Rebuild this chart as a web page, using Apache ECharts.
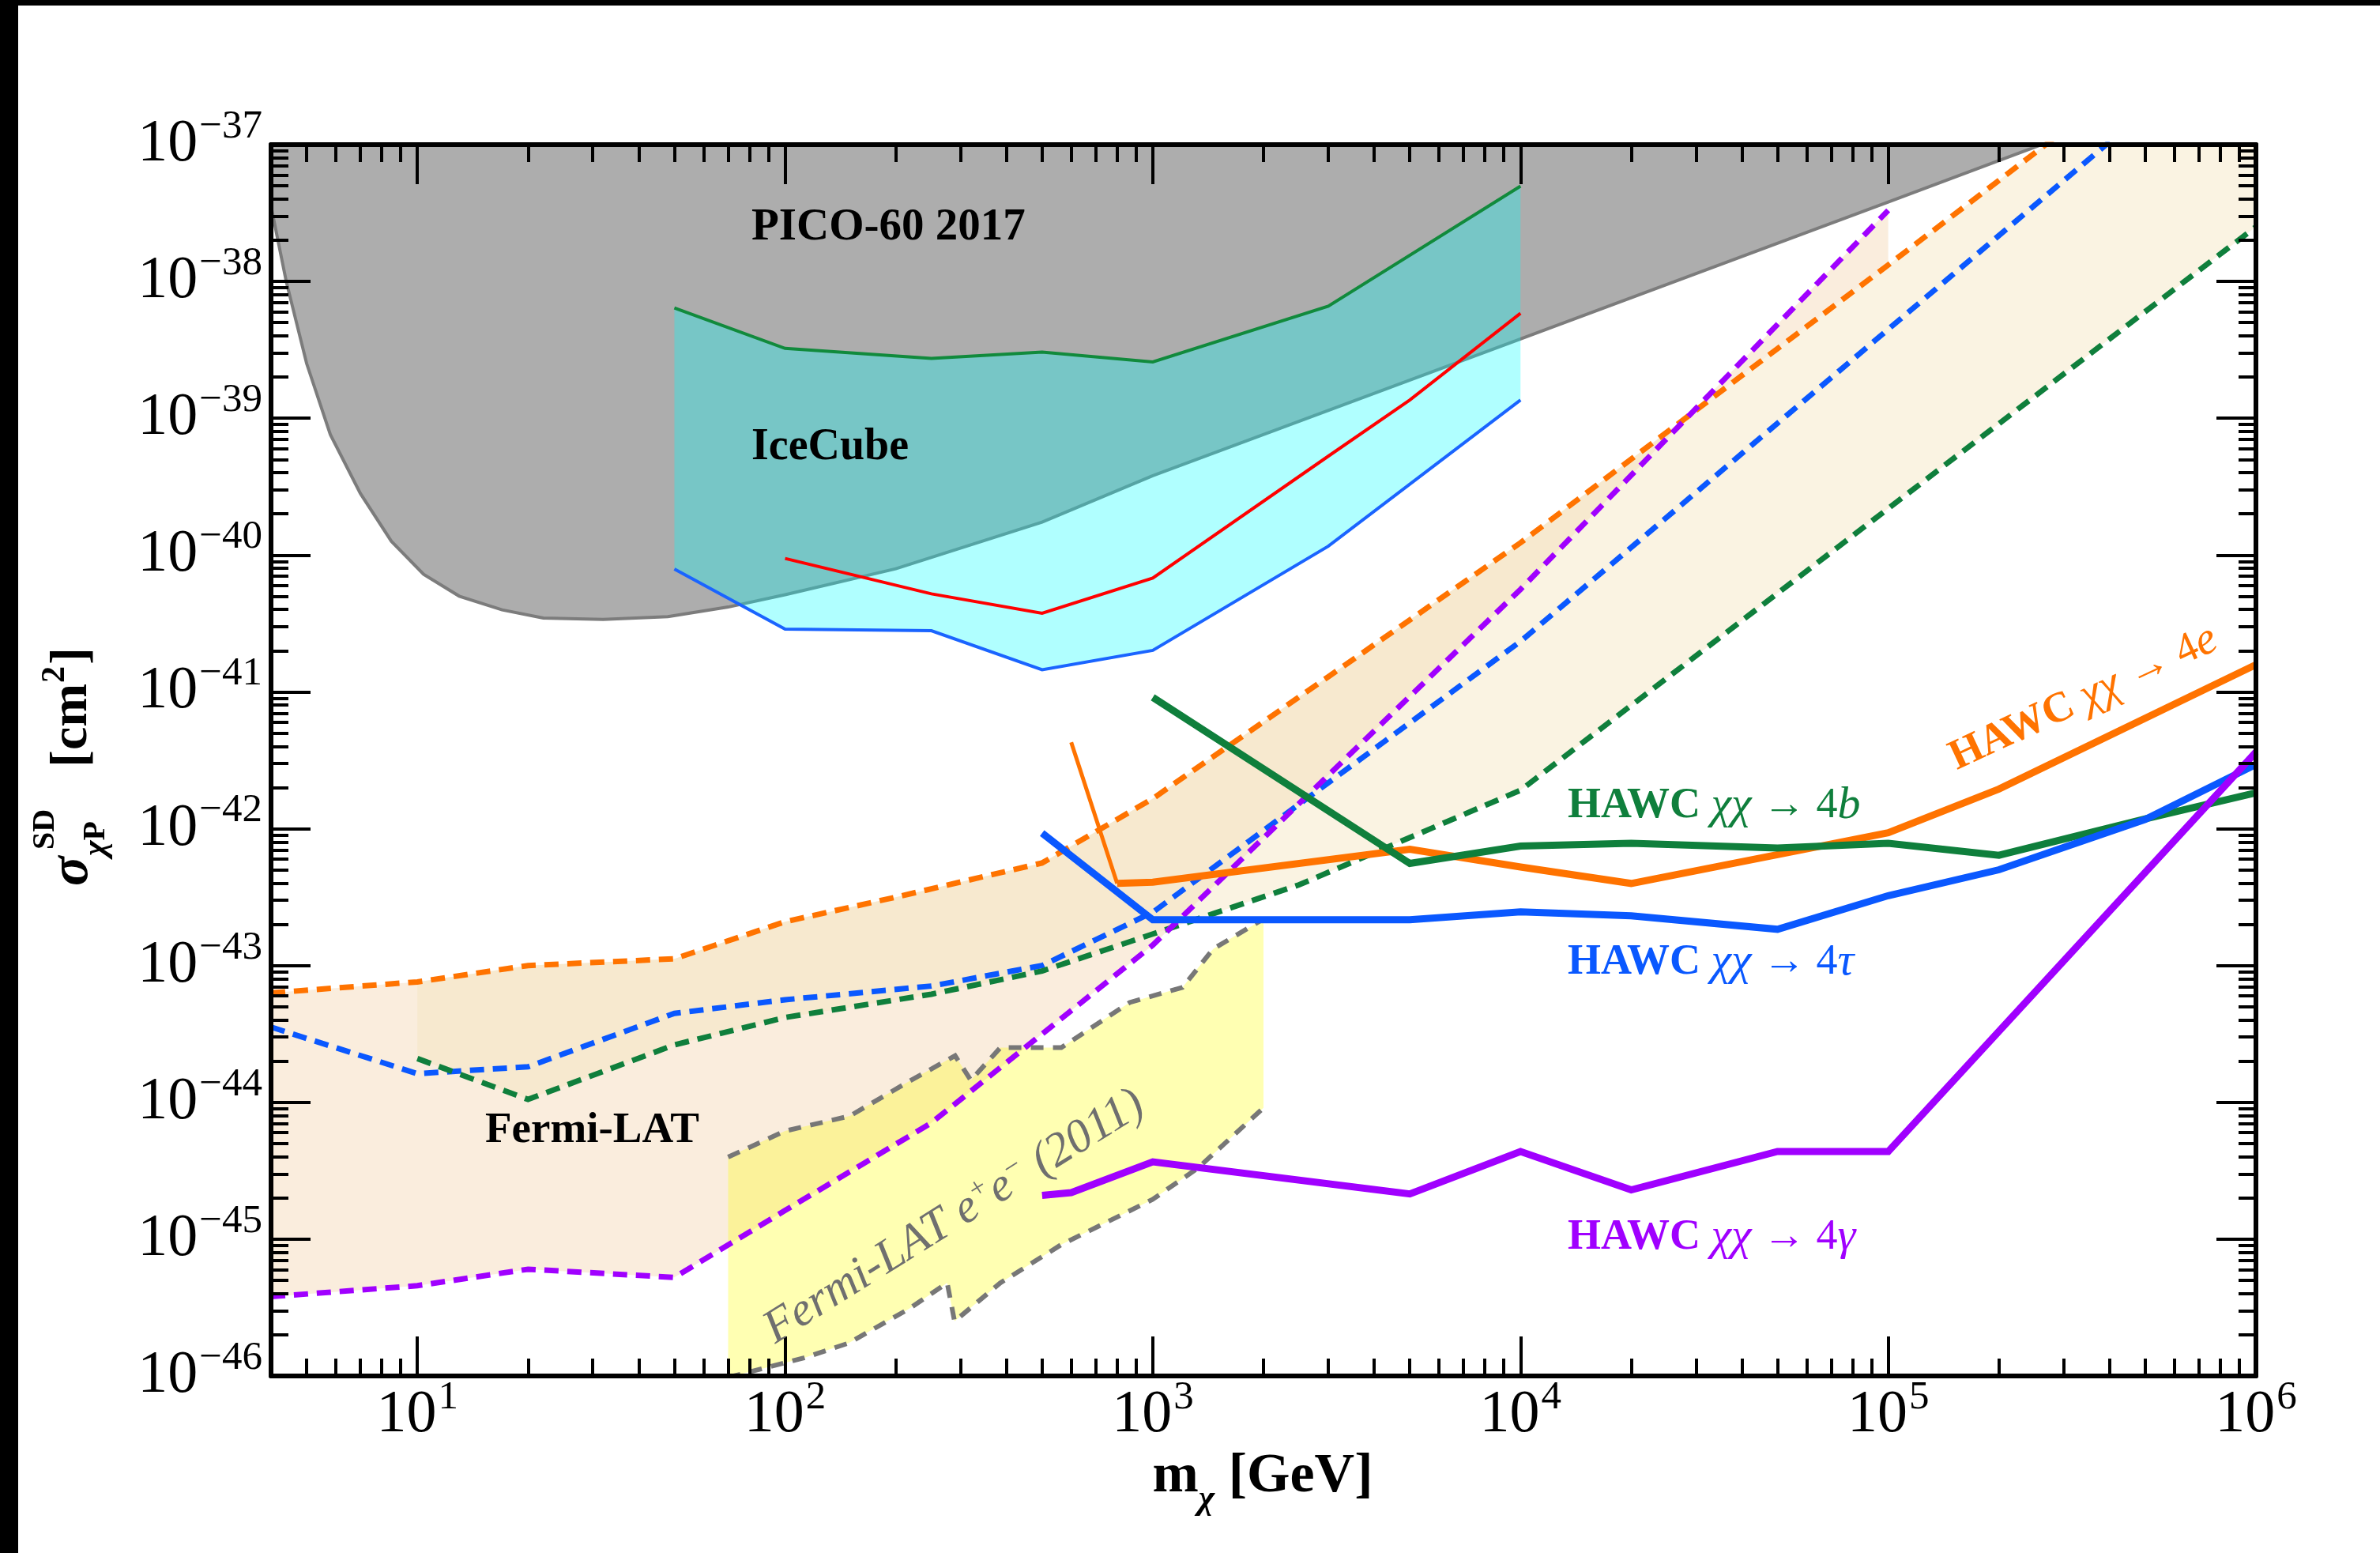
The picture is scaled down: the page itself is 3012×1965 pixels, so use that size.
<!DOCTYPE html>
<html><head><meta charset="utf-8">
<script src="https://cdn.jsdelivr.net/npm/echarts@6/dist/echarts.min.js"></script>
<style>html,body{margin:0;padding:0;background:#fff}#c{width:3012px;height:1965px}</style>
</head><body><div id="c"></div>
<script>
// ---------------- DATA (mass in GeV, cross-section in cm^2) ----------------
const xMajorTicks = [10, 100, 1000, 1e4, 1e5, 1e6];
const yMajorExponents = [-46, -45, -44, -43, -42, -41, -40, -39, -38, -37];

// PICO-60 2017
const picoMass  = [4, 4.4, 5, 5.8, 7, 8.5, 10.4, 13, 17, 22, 32, 48, 70, 100, 200, 500, 1000, 1e4, 1e5, 3e5];
const picoSigma = [3.55e-38, 1e-38, 2.51e-39, 7.59e-40, 2.82e-40, 1.26e-40, 7.24e-41, 5.01e-41, 3.98e-41, 3.47e-41, 3.39e-41, 3.55e-41, 4.17e-41, 5.13e-41, 7.94e-41, 1.74e-40, 3.80e-40, 3.80e-39, 3.80e-38, 1.15e-37];

// IceCube
const iceMass   = [50, 100, 250, 500, 1000, 3000, 10000];
const iceUpper  = [6.40e-39, 3.24e-39, 2.74e-39, 3.05e-39, 2.58e-39, 6.59e-39, 4.97e-38];
const iceLower  = [7.91e-41, 2.88e-41, 2.80e-41, 1.45e-41, 2.01e-41, 1.16e-40, 1.36e-39];
const iceRedMass  = [100, 250, 500, 1000, 3000, 5000, 10000];
const iceRedSigma = [9.44e-41, 5.21e-41, 3.76e-41, 6.79e-41, 5.28e-40, 1.36e-39, 5.85e-39];

// Fermi-LAT dwarf limits (dashed)
const fermi4eMass  = [4, 10, 20, 50, 100, 200, 500, 1000, 3000, 10000, 1e5, 3e5];
const fermi4eSigma = [6.31e-44, 7.59e-44, 1.0e-43, 1.12e-43, 2.09e-43, 3.16e-43, 5.62e-43, 1.66e-42, 1.29e-41, 1.23e-40, 1.32e-38, 1.26e-37];
const fermiBandTopMass  = [10, 20, 50, 100, 200, 500, 1000, 3000, 10000, 1e5, 3e5, 1e6];
const fermiBandTopSigma = [7.59e-44, 1.0e-43, 1.12e-43, 2.09e-43, 3.16e-43, 5.62e-43, 1.66e-42, 1.29e-41, 1.23e-40, 1.32e-38, 1.26e-37, 1e-35];
const fermi4tMass  = [4, 10, 20, 50, 100, 250, 500, 1000, 2500, 1e4, 1e5, 4e5];
const fermi4tSigma = [3.55e-44, 1.62e-44, 1.82e-44, 4.47e-44, 5.62e-44, 7.08e-44, 1.0e-43, 2.45e-43, 1.51e-42, 2.34e-41, 4.47e-39, 1.05e-37];
const fermi4bMass  = [10, 20, 50, 100, 250, 500, 1000, 2500, 1e4, 1e5, 1e6];
const fermi4bSigma = [2.09e-44, 1.05e-44, 2.63e-44, 4.17e-44, 6.17e-44, 9.12e-44, 1.70e-43, 3.89e-43, 1.91e-42, 2.19e-40, 2.51e-38];
const fermi4gMass  = [4, 10, 20, 50, 100, 250, 1000, 1e4, 1e5];
const fermi4gSigma = [3.80e-46, 4.57e-46, 6.03e-46, 5.25e-46, 1.62e-45, 7.08e-45, 1.41e-43, 5.62e-41, 3.31e-38];

// Fermi-LAT e+e- (2011)
const eeUpperMass  = [70, 100, 150, 220, 290, 320, 385, 564, 865, 1205, 1459, 2000];
const eeUpperSigma = [3.98e-45, 6.17e-45, 7.94e-45, 1.45e-44, 2.19e-44, 1.45e-44, 2.51e-44, 2.51e-44, 5.37e-44, 6.92e-44, 1.32e-43, 2.19e-43];
const eeLowerMass  = [70, 112, 149, 217, 276, 289, 385, 564, 824, 998, 1327, 2000];
const eeLowerSigma = [9.77e-47, 1.35e-46, 1.74e-46, 3.09e-46, 4.79e-46, 2.51e-46, 4.79e-46, 9.12e-46, 1.51e-45, 1.95e-45, 3.31e-45, 9.12e-45];

// HAWC
const hawc4eMass  = [600, 800, 1000, 5000, 1e4, 2e4, 5e4, 1e5, 2e5, 1e6];
const hawc4eSigma = [4.28e-42, 3.98e-43, 4.07e-43, 7.08e-43, 5.25e-43, 3.98e-43, 6.46e-43, 9.33e-43, 1.95e-42, 1.58e-41];
const hawc4bMass  = [1000, 5000, 1e4, 2e4, 5e4, 1e5, 2e5, 5e5, 1e6];
const hawc4bSigma = [9.12e-42, 5.58e-43, 7.46e-43, 7.83e-43, 7.23e-43, 7.83e-43, 6.40e-43, 1.18e-42, 1.83e-42];
const hawc4tMass  = [500, 1000, 5000, 1e4, 2e4, 5e4, 1e5, 2e5, 5e5, 1e6];
const hawc4tSigma = [9.29e-43, 2.16e-43, 2.16e-43, 2.47e-43, 2.31e-43, 1.84e-43, 3.24e-43, 5.01e-43, 1.17e-42, 2.95e-42];
const hawc4gMass  = [500, 600, 1000, 5000, 1e4, 2e4, 5e4, 1e5, 1e6];
const hawc4gSigma = [2.09e-45, 2.19e-45, 3.67e-45, 2.14e-45, 4.37e-45, 2.29e-45, 4.37e-45, 4.37e-45, 3.63e-42];

// ---------------- STYLE / SCALES ----------------
// the y axis works in units of 1e-46 cm^2 (avoids float rounding of tiny numbers)
const Y_UNIT_EXP = -46;
const toAxis = s => s * Math.pow(10, -Y_UNIT_EXP);
const Y_MIN = Math.pow(10, yMajorExponents[0] - Y_UNIT_EXP);
const Y_MAX = Math.pow(10, yMajorExponents[yMajorExponents.length - 1] - Y_UNIT_EXP);

const FONT = "'Liberation Serif','DejaVu Serif',serif";
const C = {
  orange: '#ff7300', green: '#0f7f3c', blue: '#0a58ff', purple: '#a000ff',
  gray: '#777777', iceGreen: '#118a3c', iceRed: '#ff0000', iceBlue: '#1a64ff'
};

const pairs = (xs, ys) => xs.map((x, i) => [x, toAxis(ys[i])]);

function line(xs, ys, color, width, dash, z) {
  return {
    type: 'line', data: pairs(xs, ys), symbol: 'none', z: z, silent: true,
    animation: false, clip: true,
    lineStyle: { color: color, width: width, type: dash || 'solid', cap: 'butt', join: 'miter' }
  };
}
function band(upX, upY, loX, loY, fill, z) {
  const up = pairs(upX, upY), lo = pairs(loX, loY);
  return {
    type: 'custom', coordinateSystem: 'cartesian2d', z: z, silent: true, animation: false,
    data: [up[0]],
    renderItem: function (params, api) {
      const pts = [];
      for (let i = 0; i < up.length; i++) pts.push(api.coord(up[i]));
      for (let j = lo.length - 1; j >= 0; j--) pts.push(api.coord(lo[j]));
      const cs = params.coordSys;
      return {
        type: 'polygon', shape: { points: pts }, style: { fill: fill },
        clipPath: { type: 'rect', shape: { x: cs.x, y: cs.y, width: cs.width, height: cs.height } }
      };
    }
  };
}

const xMinorTicks = [];
for (let e = 0; e < 6; e++) for (let k = 2; k <= 9; k++) { const v = k * Math.pow(10, e); if (v > 4 && v < 1e6) xMinorTicks.push(v); }
const yMajorTicks = yMajorExponents.map(e => Math.pow(10, e - Y_UNIT_EXP));
const yMinorTicks = [];
for (let i = 0; i < yMajorExponents.length - 1; i++) for (let k = 2; k <= 9; k++) yMinorTicks.push(k * yMajorTicks[i]);

const labRich = {
  b: { fontSize: 76, fontFamily: FONT, color: '#000', lineHeight: 76, verticalAlign: 'bottom' },
  s: { fontSize: 51, fontFamily: FONT, color: '#000', lineHeight: 51, padding: [0, 0, 35, 2], verticalAlign: 'bottom' }
};
const supFmt = e => '{b|10}{s|' + (e < 0 ? '\u2212' + (-e) : e) + '}';
const xFmt = v => supFmt(Math.round(Math.log10(v)));
const yFmt = v => supFmt(Math.round(Math.log10(v)) + Y_UNIT_EXP);

function xAx(pos, ticks, len, showLabel, showLine) {
  return {
    type: 'log', logBase: 10, min: 4, max: 1e6, position: pos, z: 50,
    axisLine: { show: showLine, onZero: false, lineStyle: { color: '#000', width: 6 } },
    axisTick: { show: true, inside: true, length: len, customValues: ticks, lineStyle: { color: '#000', width: 4 } },
    axisLabel: showLabel ? { show: true, customValues: ticks, formatter: xFmt, margin: 12, rich: labRich } : { show: false },
    splitLine: { show: false }, minorTick: { show: false }
  };
}
function yAx(pos, ticks, len, showLabel, showLine) {
  return {
    type: 'log', logBase: 10, min: Y_MIN, max: Y_MAX, position: pos, z: 50,
    axisLine: { show: showLine, onZero: false, lineStyle: { color: '#000', width: 6 } },
    axisTick: { show: true, inside: true, length: len, customValues: ticks, lineStyle: { color: '#000', width: 4 } },
    axisLabel: showLabel ? { show: true, customValues: ticks, formatter: yFmt, margin: 11, rich: labRich } : { show: false },
    splitLine: { show: false }, minorTick: { show: false }
  };
}

const chart = echarts.init(document.getElementById('c'), null, { renderer: 'canvas' });

const fermiA_upX = fermi4eMass.filter(m => m <= 1e5);
const fermiA_upY = fermi4eSigma.slice(0, fermiA_upX.length);

const DASH = [18, 11];
const series = [
  // PICO-60 grey excluded region
  Object.assign(line(picoMass, picoSigma, '#7c7c7c', 4, 'solid', 1),
    { areaStyle: { origin: Y_MAX, color: '#adadad', opacity: 1 } }),
  // Fermi-LAT bands
  band(fermiA_upX, fermiA_upY, fermi4gMass, fermi4gSigma, 'rgba(245,214,180,0.45)', 2),
  band(fermiBandTopMass, fermiBandTopSigma, fermi4bMass, fermi4bSigma, 'rgba(243,228,190,0.45)', 2),
  // Fermi-LAT e+e- band
  band(eeUpperMass, eeUpperSigma, eeLowerMass, eeLowerSigma, 'rgba(255,255,0,0.30)', 3),
  // IceCube band
  band(iceMass, iceUpper, iceMass, iceLower, 'rgba(0,255,255,0.31)', 3),
  // dashed Fermi-LAT lines
  line(fermi4eMass, fermi4eSigma, C.orange, 7, DASH, 4),
  line(fermi4tMass, fermi4tSigma, C.blue, 7, DASH, 4),
  line(fermi4bMass, fermi4bSigma, C.green, 7, DASH, 4),
  line(fermi4gMass, fermi4gSigma, C.purple, 7, DASH, 4),
  line(eeUpperMass, eeUpperSigma, C.gray, 6, [16, 12], 4),
  line(eeLowerMass, eeLowerSigma, C.gray, 6, [16, 12], 4),
  // IceCube lines
  line(iceMass, iceUpper, C.iceGreen, 4, 'solid', 5),
  line(iceMass, iceLower, C.iceBlue, 4, 'solid', 5),
  line(iceRedMass, iceRedSigma, C.iceRed, 4, 'solid', 5),
  // HAWC
  line(hawc4eMass.slice(0, 2), hawc4eSigma.slice(0, 2), C.orange, 5, 'solid', 6),
  line(hawc4eMass.slice(1), hawc4eSigma.slice(1), C.orange, 9, 'solid', 6),
  line(hawc4bMass, hawc4bSigma, C.green, 9, 'solid', 6),
  line(hawc4tMass, hawc4tSigma, C.blue, 9, 'solid', 6),
  line(hawc4gMass, hawc4gSigma, C.purple, 9, 'solid', 6)
];

const hawcRich = (color) => ({
  h: { fontSize: 54, fontFamily: FONT, fontWeight: 'bold', fill: color },
  i: { fontSize: 58, fontFamily: FONT, fontStyle: 'italic', fill: color },
  r: { fontSize: 54, fontFamily: FONT, fill: color }
});
function hawcText(x, y, proc, color, rot) {
  return {
    type: 'text', x: x, y: y, rotation: rot || 0, z: 100, silent: true,
    style: {
      text: '{h|HAWC\u00a0}{i|\u03c7\u03c7\u00a0}{r|\u2192\u00a04}{i|' + proc + '}',
      rich: hawcRich(color), fill: color, align: rot ? 'center' : 'left', verticalAlign: 'middle'
    }
  };
}

const graphic = [
  { type: 'rect', shape: { x: 0, y: 0, width: 3012, height: 7 }, style: { fill: '#000' }, z: 200, silent: true },
  { type: 'rect', shape: { x: 0, y: 0, width: 23, height: 1965 }, style: { fill: '#000' }, z: 200, silent: true },
  { type: 'text', x: 951, y: 288, z: 100, silent: true, style: { text: 'PICO-60 2017', font: 'bold 57px ' + FONT, fill: '#000', verticalAlign: 'middle' } },
  { type: 'text', x: 951, y: 567, z: 100, silent: true, style: { text: 'IceCube', font: 'bold 56px ' + FONT, fill: '#000', verticalAlign: 'middle' } },
  { type: 'text', x: 614, y: 1431, z: 100, silent: true, style: { text: 'Fermi-LAT', font: 'bold 55px ' + FONT, fill: '#000', verticalAlign: 'middle' } },
  { type: 'text', x: 1208, y: 1540, z: 100, silent: true, rotation: 32 * Math.PI / 180,
    style: { text: 'Fermi-LAT e{s|+}e{s|\u2212} (2011)', font: 'italic 60px ' + FONT, fill: '#6f6f6f', align: 'center', verticalAlign: 'middle',
      rich: { s: { fontSize: 36, fontStyle: 'italic', fontFamily: FONT, fill: '#6f6f6f', padding: [0, 0, 28, 0], verticalAlign: 'bottom' } } } },
  hawcText(1984, 1020, 'b', C.green),
  hawcText(1984, 1218, '\u03c4', C.blue),
  hawcText(1984, 1566, '\u03b3', C.purple),
  hawcText(2637, 884, 'e', C.orange, 25 * Math.PI / 180),
  // x-axis title
  { type: 'text', x: 1598, y: 1885, z: 100, silent: true,
    style: { text: '{m|m}{c|\u03c7}{m|\u00a0[GeV]}', align: 'center', verticalAlign: 'middle',
      rich: {
        m: { fontSize: 70, fontFamily: FONT, fontWeight: 'bold', fill: '#000', lineHeight: 70, padding: [0, 0, 16, 0], verticalAlign: 'bottom' },
        c: { fontSize: 44, fontFamily: FONT, fontWeight: 'bold', fontStyle: 'italic', fill: '#000', lineHeight: 44, verticalAlign: 'bottom' }
      } } },
  // y-axis title (rotated)
  { type: 'group', x: 92, y: 1121, rotation: Math.PI / 2, z: 100, silent: true,
    children: [
      { type: 'text', x: 0, y: 0, style: { text: '\u03c3', font: 'italic bold 70px ' + FONT, fill: '#000', verticalAlign: 'middle' } },
      { type: 'text', x: 46, y: -34, style: { text: 'SD', font: 'bold 40px ' + FONT, fill: '#000', verticalAlign: 'middle' } },
      { type: 'text', x: 38, y: 30, style: { text: '{i|\u03c7}P', font: 'bold 40px ' + FONT, fill: '#000', verticalAlign: 'middle',
        rich: { i: { fontSize: 42, fontFamily: FONT, fontStyle: 'italic', fontWeight: 'bold', fill: '#000' } } } },
      { type: 'text', x: 150, y: 0, style: { text: '[cm', font: 'bold 66px ' + FONT, fill: '#000', verticalAlign: 'middle' } },
      { type: 'text', x: 257, y: -22, style: { text: '2', font: 'bold 42px ' + FONT, fill: '#000', verticalAlign: 'middle' } },
      { type: 'text', x: 280, y: 0, style: { text: ']', font: 'bold 66px ' + FONT, fill: '#000', verticalAlign: 'middle' } }
    ] }
];

chart.setOption({
  animation: false,
  backgroundColor: '#ffffff',
  grid: { left: 343, top: 183, width: 2512, height: 1558, containLabel: false },
  xAxis: [
    xAx('bottom', xMajorTicks, 50, true, true),
    xAx('bottom', xMinorTicks, 22, false, false),
    xAx('top', xMajorTicks, 50, false, true),
    xAx('top', xMinorTicks, 22, false, false)
  ],
  yAxis: [
    yAx('left', yMajorTicks, 50, true, true),
    yAx('left', yMinorTicks, 22, false, false),
    yAx('right', yMajorTicks, 50, false, true),
    yAx('right', yMinorTicks, 22, false, false)
  ],
  series: series,
  graphic: { elements: graphic }
});
</script></body></html>
